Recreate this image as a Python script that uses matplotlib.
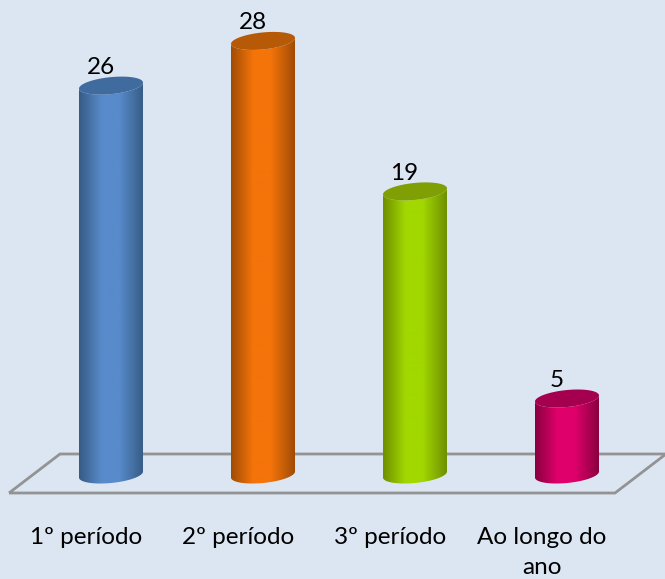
import numpy as np
from matplotlib import pyplot as plt
from matplotlib.colors import LinearSegmentedColormap
from matplotlib.patches import Polygon

plt.rcParams['font.family'] = ['Lato', 'DejaVu Sans']

categories = ['1º período', '2º período', '3º período', 'Ao longo do\nano']
data_labels = [26, 28, 19, 5]
# drawn heights (the 28 bar stands taller than its label)
bar_heights = [26.1, 29.1, 19.0, 5.1]

edge_colors = ['#365b84', '#a04c05', '#6f8f00', '#88003f']
mid_colors = ['#588bcb', '#f5740a', '#a2d800', '#e0006b']
cap_colors = ['#3f6b9e', '#b65a08', '#7f9f04', '#a5004f']

BG = '#dce6f2'
W, H = 665, 579
PX_PER_X = 152.      # pixels between categories
PX_PER_Y = 14.9      # pixels per value unit
X0_PX, Y0_PX = 111., 474.5

fig = plt.figure(figsize=(W/100., H/100.), dpi=100, facecolor=BG)
ax = fig.add_axes([0, 0, 1, 1])
ax.axis('off')

#---- Floor (in axes fractions)

floor = np.array([[9, 493], [615, 493], [666, 454], [60, 454]], dtype=float)
floor = floor/[W, H]
floor[:, 1] = 1 - floor[:, 1]
ax.add_patch(Polygon(floor, closed=True, fill=False, ec='#939393', lw=2.,
                     transform=ax.transAxes, clip_on=False, zorder=1))

#---- Cylinders

half_w = 32./PX_PER_X
ry = 8.5/PX_PER_Y
tilt = 3./PX_PER_Y
t = np.linspace(0., 2.*np.pi, 200)
grad = np.linspace(0., 1., 256).reshape(1, -1)

for i, h in enumerate(bar_heights):

    cmap = LinearSegmentedColormap.from_list(
        'c%d' % i, [(0., edge_colors[i]), (0.35, mid_colors[i]), (0.62, mid_colors[i]), (1., edge_colors[i])])

    ex = i + half_w*np.cos(t)
    ey_side = tilt*np.cos(t) + ry*np.sin(t)

    # body: lower half of the base ellipse, then up along the top one
    low = np.sin(t) <= 0
    order = np.argsort(-np.cos(t[low]))
    base = np.c_[ex[low][order], ey_side[low][order]]
    top = np.c_[ex[low][order][::-1], ey_side[low][order][::-1] + h]
    body = Polygon(np.vstack([base, top]), closed=True, transform=ax.transData, fc='none', ec='none')
    ax.add_patch(body)

    im = ax.imshow(grad, cmap=cmap, aspect='auto', zorder=2,
                   extent=[i-half_w, i+half_w, -2, h+2])
    im.set_clip_path(body)

    ax.fill(ex, ey_side + h, color=cap_colors[i], lw=0, zorder=3)

    ax.annotate(str(data_labels[i]), (i, h), xytext=(-7.5, 13), textcoords='offset points',
                ha='center', va='center', fontsize=17.5, color='k', zorder=4)

    ax.annotate(categories[i], (i, 0), xytext=(-18, -38), textcoords='offset points',
                ha='center', va='top', fontsize=17.5, color='k', linespacing=1.5, zorder=4)

# imshow resets the limits
ax.set_xlim(-X0_PX/PX_PER_X, (W-X0_PX)/PX_PER_X)
ax.set_ylim((Y0_PX-H)/PX_PER_Y, Y0_PX/PX_PER_Y)

plt.savefig('out.png', dpi=100, facecolor=BG)
